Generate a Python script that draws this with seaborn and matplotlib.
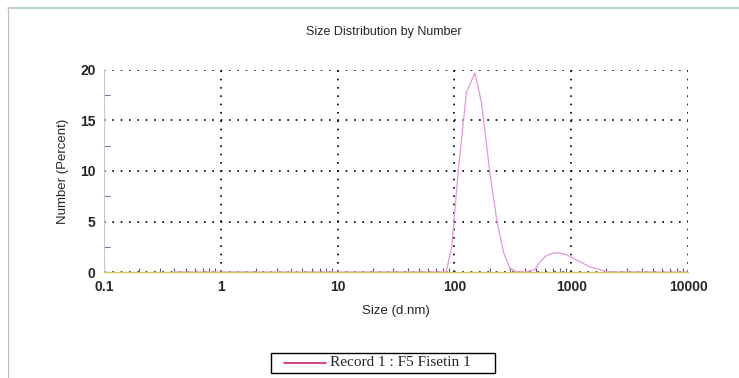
import matplotlib
matplotlib.use("Agg")
import matplotlib.pyplot as plt
import seaborn as sns
import pandas as pd
import numpy as np
from matplotlib.ticker import FixedLocator, NullFormatter, LogLocator
from matplotlib.lines import Line2D
from matplotlib.patches import Rectangle

# Data
sizes = [0.4, 1, 10, 60, 85, 95, 108, 127, 150, 171, 200, 230, 265, 299, 340, 400,
         490, 540, 610, 685, 775, 915, 1100, 1450, 2000, 2500, 10000]
number_pct = [0, 0, 0, 0, 0, 2.5, 10.1, 17.85, 19.7, 16.7, 10.1, 5.15, 1.85, 0.37, 0.05, 0,
              0.25, 1.0, 1.6, 1.85, 1.9, 1.7, 1.2, 0.5, 0.05, 0, 0]
record_label = "Record 1 : F5 Fisetin 1"
x_ticks = [0.1, 1, 10, 100, 1000, 10000]
x_tick_labels = ["0.1", "1", "10", "100", "1000", "10000"]
y_ticks = [0, 5, 10, 15, 20]

sns.set_style("white")
plt.rcParams['font.family'] = ['Liberation Sans', 'DejaVu Sans']

df = pd.DataFrame({"size": sizes, "pct": number_pct})

fig = plt.figure(figsize=(7.39, 3.78), dpi=100)
ax = fig.add_axes([104/739, 1-272/378, (688-104)/739, (272-70)/378])

sns.lineplot(data=df, x="size", y="pct", ax=ax, color="#e696dc", linewidth=0.9)

ax.set_xscale("log")
ax.set_xlim(0.1, 10000)
ax.set_ylim(0, 20)
ax.set_xticks(x_ticks)
ax.set_xticklabels(x_tick_labels)
ax.xaxis.set_minor_locator(LogLocator(base=10, subs=np.arange(2, 10)))
ax.xaxis.set_minor_formatter(NullFormatter())
ax.set_yticks(y_ticks)
ax.yaxis.set_minor_locator(FixedLocator([2.5, 7.5, 12.5, 17.5]))

ax.grid(True, which="major", color="black", linestyle=(0, (1, 4)), linewidth=1.2)
ax.tick_params(axis="both", which="major", labelsize=10, length=0, pad=6)
ax.tick_params(axis="x", which="minor", direction="in", length=3, width=0.8,
               color="#555577", bottom=True)
ax.tick_params(axis="y", which="minor", direction="in", length=4, width=0.8,
               color="#8a6aa8", left=True)
for lbl in ax.get_xticklabels() + ax.get_yticklabels():
    lbl.set_fontweight("bold")

for s in ["top", "right"]:
    ax.spines[s].set_visible(False)
ax.spines["left"].set_color("#c8c8d0")
ax.spines["left"].set_linewidth(0.8)
ax.spines["bottom"].set_color("#d8c860")
ax.spines["bottom"].set_linewidth(1.0)

ax.set_xlabel("Size (d.nm)", fontsize=9.5, labelpad=8)
ax.set_ylabel("Number (Percent)", fontsize=9.5, labelpad=8)
fig.text(384/739, 1-32/378, "Size Distribution by Number", ha="center", va="center", fontsize=9)

# page frame lines
fig.add_artist(Line2D([8/739, 1], [1-8/378, 1-8/378], color="#a8c8c0", linewidth=1.2))
fig.add_artist(Line2D([8/739, 8/739], [0, 1-8/378], color="#c0c0c0", linewidth=0.8))

# legend box
fig.add_artist(Rectangle((271/739, 1-373/378), (495-271)/739, 20/378,
                         fill=False, edgecolor="black", linewidth=1.0))
fig.add_artist(Line2D([284/739, 326/739], [1-363/378, 1-363/378], color="#d0207a", linewidth=1.2))
fig.text(330/739, 1-362/378, record_label, ha="left", va="center", fontsize=11,
         family=["Liberation Serif", "DejaVu Serif"])

fig.savefig("out.png", dpi=100)
